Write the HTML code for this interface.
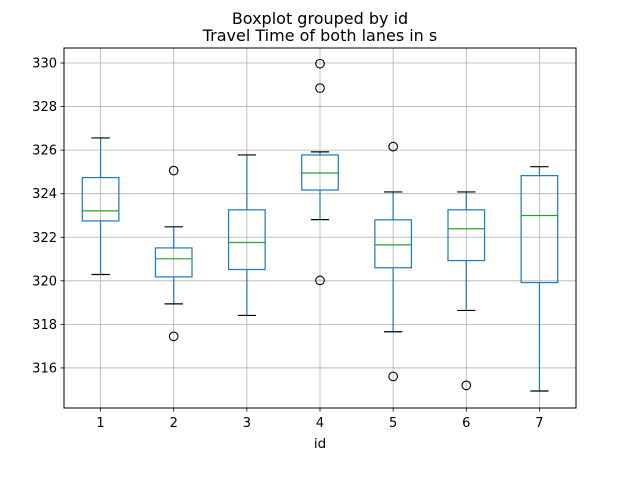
<!DOCTYPE html>
<html><head><meta charset="utf-8"><style>body{margin:0;background:#fff}svg{display:block;font-family:"DejaVu Sans","Liberation Sans",sans-serif}</style></head>
<body>
<svg id="chart" width="640" height="480" viewBox="0 0 640 480">
<text x="320" y="24" font-size="16" text-anchor="middle">Boxplot grouped by id</text>
<text x="320" y="41" font-size="16" text-anchor="middle">Travel Time of both lanes in s</text>
<text x="320" y="448" font-size="13.5" text-anchor="middle">id</text>
<g id="grid"></g><g id="marks"></g>
<rect x="64" y="48" width="512" height="360" fill="none" stroke="#000" stroke-width="1"/>
</svg>
<script>
const categories = ["1","2","3","4","5","6","7"];
const whiskerLow = [320.29,318.94,318.41,322.81,317.66,318.64,314.94];
const q1 = [322.75,320.18,320.52,324.17,320.60,320.93,319.92];
const medians = [323.21,321.01,321.76,324.95,321.65,322.39,323.00];
const q3 = [324.74,321.51,323.26,325.78,322.80,323.26,324.83];
const whiskerHigh = [326.56,322.48,325.78,325.92,324.08,324.08,325.24];
const outliers = [[],[325.06,317.45],[],[329.97,328.85,320.02],[326.16,315.61],[315.20],[]];
const yTicks = [316,318,320,322,324,326,328,330];
const NS="http://www.w3.org/2000/svg";
const L=64,R=576,T=48,B=408,yMin=314.16,yMax=330.69;
const x=i=>L+(i+0.5)*(R-L)/categories.length;
const y=v=>B-(v-yMin)/(yMax-yMin)*(B-T);
const step=(R-L)/categories.length;
function mk(tag,attrs,parent){const e=document.createElementNS(NS,tag);for(const k in attrs)e.setAttribute(k,attrs[k]);parent.appendChild(e);return e;}
const grid=document.getElementById('grid'),marks=document.getElementById('marks'),svg=document.getElementById('chart');
yTicks.forEach(t=>{
 const g=mk('line',{x1:L,x2:R,y1:y(t),y2:y(t),stroke:'#b0b0b0','stroke-width':0.8},grid);
 
 
 const tk=mk('line',{x1:L-3.5,x2:L,y1:y(t),y2:y(t),stroke:'#000','stroke-width':0.8},grid);
 
 
 const tx=mk('text',{x:L-7,y:y(t)+4.5,'font-size':13,'text-anchor':'end'},svg);
 tx.textContent=t;
 
 
});
categories.forEach((c,i)=>{
 const cx=x(i);
 const g=mk('line',{x1:cx,x2:cx,y1:T,y2:B,stroke:'#b0b0b0','stroke-width':0.8},grid);
 
 
 const tk=mk('line',{x1:cx,x2:cx,y1:B,y2:B+3.5,stroke:'#000','stroke-width':0.8},grid);
 
 
 const tx=mk('text',{x:cx,y:B+19,'font-size':13,'text-anchor':'middle'},svg);
 tx.textContent=c;
 
 
 const grp=mk('g',{},marks);
 
 
 const hw=step*0.25, cw=step*0.125, blue='#1f77b4';
 mk('line',{x1:cx,x2:cx,y1:y(q3[i]),y2:y(whiskerHigh[i]),stroke:blue,'stroke-width':1.2},grp);
 mk('line',{x1:cx,x2:cx,y1:y(q1[i]),y2:y(whiskerLow[i]),stroke:blue,'stroke-width':1.2},grp);
 mk('line',{x1:cx-cw,x2:cx+cw,y1:y(whiskerHigh[i]),y2:y(whiskerHigh[i]),stroke:'#000','stroke-width':1.2},grp);
 mk('line',{x1:cx-cw,x2:cx+cw,y1:y(whiskerLow[i]),y2:y(whiskerLow[i]),stroke:'#000','stroke-width':1.2},grp);
 mk('rect',{x:cx-hw,y:y(q3[i]),width:2*hw,height:y(q1[i])-y(q3[i]),fill:'none',stroke:blue,'stroke-width':1.2},grp);
 mk('line',{x1:cx-hw,x2:cx+hw,y1:y(medians[i]),y2:y(medians[i]),stroke:'#2ca02c','stroke-width':1.2},grp);
 outliers[i].forEach(v=>{
  const o=mk('circle',{cx:cx,cy:y(v),r:4.3,fill:'none',stroke:'#000','stroke-width':1.1},grp);
  
  
 });
});
</script>
</body></html>
